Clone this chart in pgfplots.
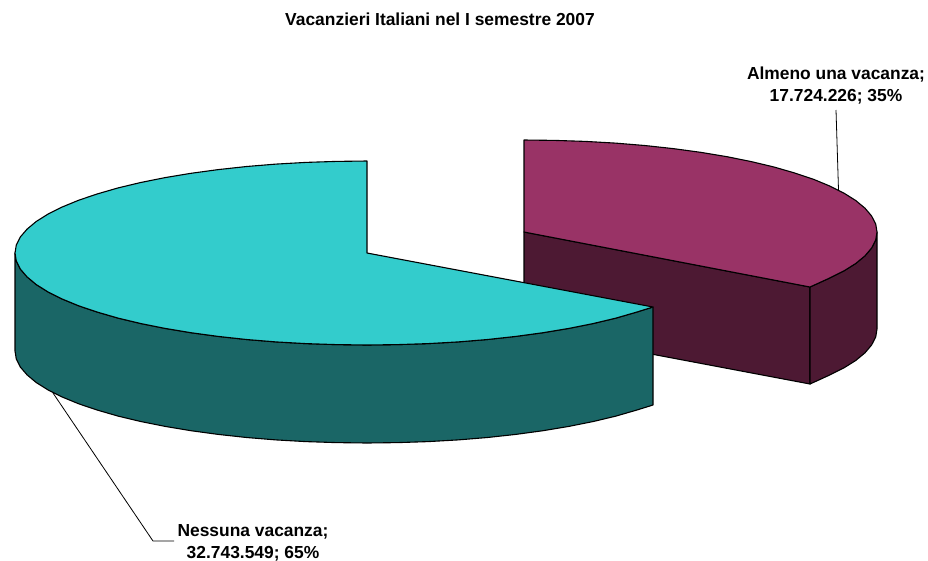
\documentclass[border=0pt]{standalone}
\usepackage{pgfplots}
\pgfplotsset{compat=1.18}
\usepackage{fontspec}
\setmainfont{Liberation Sans}
\definecolor{tealtop}{HTML}{33CCCC}
\definecolor{tealside}{HTML}{1A6666}
\definecolor{martop}{HTML}{993366}
\definecolor{marside}{HTML}{4D1933}
\tikzset{lbl/.style={font=\fontsize{17.4}{22}\selectfont\bfseries, anchor=base, inner sep=0pt, text=black}}
\begin{document}
\begin{tikzpicture}[x=1pt,y=1pt]
\begin{axis}[
  scale only axis, width=928pt, height=560pt,
  xmin=0, xmax=928, ymin=0, ymax=560, y dir=reverse,
  hide axis, clip=false,
  every axis plot/.append style={line width=1.1pt, line join=round, draw=black, mark=none}
]
\path (axis cs:0,0) rectangle (axis cs:928,560);
% maroon cut face
\addplot[fill=marside] coordinates {(524,232)(810,287)(810,384)(524,330)} -- cycle;
% maroon outer wall
\addplot[fill=marside] coordinates {(877,232)(875.7,240)(871.6,248)(865,255.8)(855.7,263.5)(843.9,270.9)(829.7,278)(810,287)(810,384)(829.7,375)(843.9,367.9)(855.7,360.5)(865,352.8)(871.6,345)(875.7,337)(877,329)} -- cycle;
% maroon top
\addplot[fill=martop] coordinates {(524,232)(524,140)(554.8,140.4)(585.3,141.4)(615.4,143.1)(644.7,145.5)(673.2,148.6)(700.5,152.3)(726.5,156.6)(750.9,161.5)(773.6,166.9)(794.4,172.9)(813.3,179.2)(829.7,186)(843.9,193.1)(855.7,200.5)(865,208.2)(871.6,216)(875.7,224)(877,232)(875.7,240)(871.6,248)(865,255.8)(855.7,263.5)(843.9,270.9)(829.7,278)(810,287)} -- cycle;
% teal outer wall
\addplot[fill=tealside] coordinates {(15,253)(16.3,261)(20.3,269)(27,276.8)(36.2,284.5)(48,291.9)(62.2,299)(78.7,305.8)(97.4,312.1)(118.1,318.1)(140.7,323.5)(165.1,328.4)(191,332.7)(218.2,336.4)(246.6,339.5)(275.9,341.9)(305.9,343.6)(336.3,344.6)(367,345)(397.7,344.6)(428.1,343.6)(458.1,341.9)(487.4,339.5)(515.8,336.4)(543,332.7)(568.9,328.4)(593.3,323.5)(615.9,318.1)(636.6,312.1)(653,307)(653,405)(636.6,410.1)(615.9,416.1)(593.3,421.5)(568.9,426.4)(543,430.7)(515.8,434.4)(487.4,437.5)(458.1,439.9)(428.1,441.6)(397.7,442.6)(367,443)(336.3,442.6)(305.9,441.6)(275.9,439.9)(246.6,437.5)(218.2,434.4)(191,430.7)(165.1,426.4)(140.7,421.5)(118.1,416.1)(97.4,410.1)(78.7,403.8)(62.2,397)(48,389.9)(36.2,382.5)(27,374.8)(20.3,367)(16.3,359)(15,351)} -- cycle;
% teal top
\addplot[fill=tealtop] coordinates {(367,253)(367,161)(336.3,161.4)(305.9,162.4)(275.9,164.1)(246.6,166.5)(218.2,169.6)(191,173.3)(165.1,177.6)(140.7,182.5)(118.1,187.9)(97.4,193.9)(78.7,200.2)(62.2,207)(48,214.1)(36.2,221.5)(27,229.2)(20.3,237)(16.3,245)(15,253)(16.3,261)(20.3,269)(27,276.8)(36.2,284.5)(48,291.9)(62.2,299)(78.7,305.8)(97.4,312.1)(118.1,318.1)(140.7,323.5)(165.1,328.4)(191,332.7)(218.2,336.4)(246.6,339.5)(275.9,341.9)(305.9,343.6)(336.3,344.6)(367,345)(397.7,344.6)(428.1,343.6)(458.1,341.9)(487.4,339.5)(515.8,336.4)(543,332.7)(568.9,328.4)(593.3,323.5)(615.9,318.1)(636.6,312.1)(653,307)} -- cycle;
% leader lines
\addplot[line width=0.8pt] coordinates {(836,110)(838.5,190)};
\addplot[line width=0.8pt] coordinates {(53,393)(153,541)(174,541)};
\node[lbl] at (axis cs:440,25) {Vacanzieri Italiani nel I semestre 2007};
\node[lbl] at (axis cs:836,79) {Almeno una vacanza;};
\node[lbl] at (axis cs:836,101) {17.724.226; 35\%};
\node[lbl] at (axis cs:253,536) {Nessuna vacanza;};
\node[lbl] at (axis cs:253,558) {32.743.549; 65\%};
\end{axis}
\end{tikzpicture}
\end{document}
